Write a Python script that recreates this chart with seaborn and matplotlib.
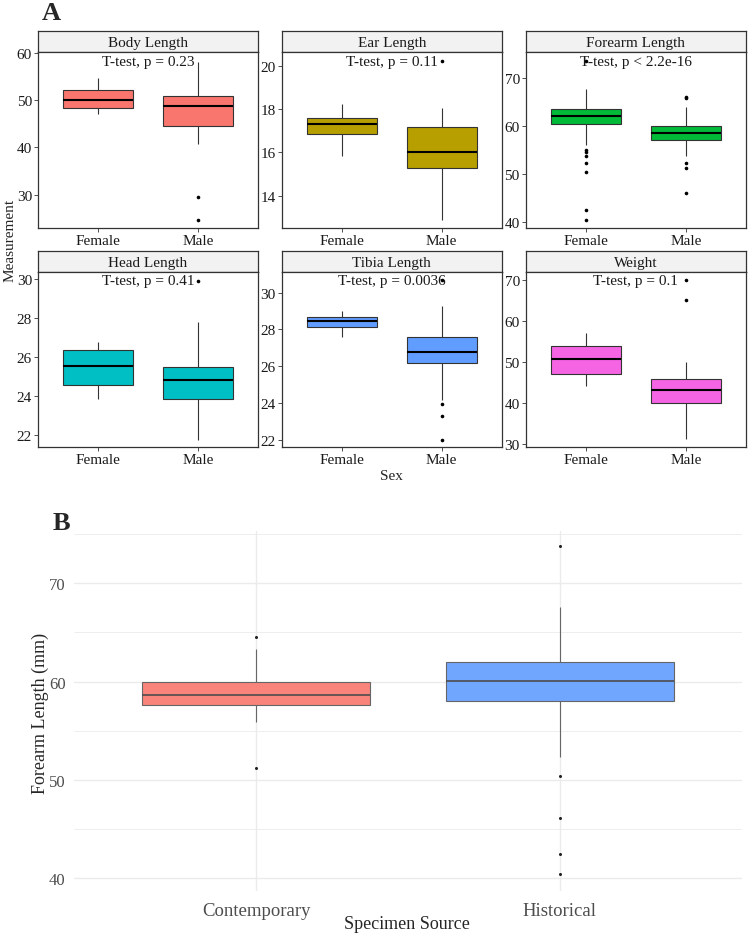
"""
Morphometric boxplots by sex (A) and forearm length by specimen source (B)
"""

import numpy as np
import pandas as pd
import matplotlib
matplotlib.use('Agg')
import matplotlib.pyplot as plt
import seaborn as sns

sns.set_theme(style='white')
plt.rcParams['font.family'] = ['Liberation Serif', 'DejaVu Serif']

# ---- Panel A data: five-number summaries (lo, q1, median, q3, hi)
facets = ['Body Length', 'Ear Length', 'Forearm Length',
          'Head Length', 'Tibia Length', 'Weight']
p_labels = ['T-test, p = 0.23', 'T-test, p = 0.11', 'T-test, p < 2.2e-16',
            'T-test, p = 0.41', 'T-test, p = 0.0036', 'T-test, p = 0.1']
sexes = ['Female', 'Male']

female_box = [
    [47.2, 48.3, 50.1, 52.1, 54.7],
    [15.85, 16.86, 17.31, 17.6, 18.23],
    [56.1, 60.5, 62.1, 63.5, 67.8],
    [23.82, 24.54, 25.52, 26.36, 26.74],
    [27.57, 28.11, 28.47, 28.65, 29.01],
    [44.1, 47.1, 50.6, 53.9, 57.0],
]
male_box = [
    [40.8, 44.6, 48.9, 51.0, 58.2],
    [12.88, 15.25, 16.0, 17.17, 18.05],
    [53.75, 57.2, 58.5, 60.0, 64.0],
    [21.74, 23.85, 24.81, 25.5, 27.77],
    [24.18, 26.17, 26.78, 27.6, 29.25],
    [31.1, 40.0, 43.1, 45.9, 50.0],
]
female_out = [
    [],
    [],
    [73.6, 55.1, 54.7, 53.7, 52.4, 50.4, 42.6, 40.4],
    [],
    [],
    [],
]
male_out = [
    [29.5, 24.5],
    [20.23],
    [66.1, 65.8, 52.4, 51.2, 46.1],
    [29.9],
    [30.7, 23.94, 23.28, 21.99],
    [70.0, 65.1],
]
facet_colors = ['#F8766D', '#B79F00', '#00BA38', '#00BFC4', '#619CFF', '#F564E3']
facet_ylims = [(22.9, 60.2), (12.5, 20.62), (38.8, 75.4),
               (21.35, 30.38), (21.6, 31.13), (29.2, 71.95)]
facet_yticks = [[30, 40, 50, 60], [14, 16, 18, 20], [40, 50, 60, 70],
                [22, 24, 26, 28, 30], [22, 24, 26, 28, 30], [30, 40, 50, 60, 70]]

# ---- Panel B data
sources = ['Contemporary', 'Historical']
source_box = [
    [55.9, 57.65, 58.6, 60.0, 63.3],
    [52.36, 58.0, 60.06, 62.03, 67.6],
]
source_out = [
    [64.5, 51.2],
    [73.76, 50.43, 46.1, 42.5, 40.4],
]
source_colors = ['#F8847C', '#71A6FF']

W, H = 748, 937
fig = plt.figure(figsize=(W / 100, H / 100), dpi=100)


def px_axes(x0, y0, x1, y1):
    return fig.add_axes([x0 / W, 1 - y1 / H, (x1 - x0) / W, (y1 - y0) / H])


col_x = [(38, 258), (281.7, 501.7), (525.7, 746)]
row_y = [(32, 53.3, 229), (252.3, 272.7, 448.3)]
edge = '#333333'

for i, name in enumerate(facets):
    r, c = divmod(i, 3)
    x0, x1 = col_x[c]
    s0, p0, p1 = row_y[r]

    # strip
    sax = px_axes(x0, s0, x1, p0)
    sax.set_facecolor('#F2F2F2')
    sax.set_xticks([])
    sax.set_yticks([])
    for sp in sax.spines.values():
        sp.set_color(edge)
        sp.set_linewidth(0.9)
    sax.text(0.5, 0.45, name, ha='center', va='center', fontsize=11,
             color='#1A1A1A', transform=sax.transAxes)

    ax = px_axes(x0, p0, x1, p1)
    box_df = pd.DataFrame({
        'sex': np.repeat(sexes, 5),
        'value': female_box[i] + male_box[i],
    })
    sns.boxplot(data=box_df, x='sex', y='value', order=sexes, ax=ax,
                whis=(0, 100), showfliers=False, showcaps=False, width=0.7,
                color=facet_colors[i], saturation=1, linecolor=edge, linewidth=0.8,
                medianprops={'color': 'black', 'linewidth': 1.5})
    out_df = pd.DataFrame({
        'sex': ['Female'] * len(female_out[i]) + ['Male'] * len(male_out[i]),
        'value': female_out[i] + male_out[i],
    })
    sns.stripplot(data=out_df, x='sex', y='value', order=sexes, ax=ax,
                  jitter=False, color='black', size=2.6, linewidth=0, zorder=4)
    ax.text(0.5, 1 - 9 / (p1 - p0), p_labels[i], ha='center', va='center',
            fontsize=11, color='#1A1A1A', transform=ax.transAxes, zorder=3)

    ax.set_xlim(-0.6, 1.6)
    ax.set_ylim(*facet_ylims[i])
    ax.set_yticks(facet_yticks[i])
    ax.set_xlabel('')
    ax.set_ylabel('')
    ax.tick_params(axis='both', length=2.75, width=0.6, color=edge,
                   labelsize=11, labelcolor='#1A1A1A', pad=1.5,
                   left=True, bottom=True)
    for sp in ax.spines.values():
        sp.set_color(edge)
        sp.set_linewidth(0.9)

fig.text(51 / W, 1 - 13 / H, 'A', fontsize=19, fontweight='bold',
         ha='center', va='center')
fig.text(10 / W, 1 - 240 / H, 'Measurement', fontsize=11, rotation=90,
         ha='center', va='center')
fig.text(391 / W, 1 - 476 / H, 'Sex', fontsize=11, ha='center', va='center')

# ---- Panel B
axb = px_axes(74, 531.7, 742, 891.7)
src_df = pd.DataFrame({
    'source': np.repeat(sources, 5),
    'value': source_box[0] + source_box[1],
})
sns.boxplot(data=src_df, x='source', y='value', order=sources, hue='source',
            palette=source_colors, legend=False, ax=axb,
            whis=(0, 100), showfliers=False, showcaps=False, width=0.75,
            saturation=1, linecolor='#666666', linewidth=0.8,
            medianprops={'color': '#4D4D4D', 'linewidth': 1.2}, zorder=3)
src_out_df = pd.DataFrame({
    'source': [sources[0]] * len(source_out[0]) + [sources[1]] * len(source_out[1]),
    'value': source_out[0] + source_out[1],
})
sns.stripplot(data=src_out_df, x='source', y='value', order=sources, ax=axb,
              jitter=False, color='#222222', size=2.2, linewidth=0, zorder=4)
axb.set_xlim(-0.6, 1.6)
axb.set_ylim(38.74, 75.35)
axb.set_yticks([40, 50, 60, 70])
axb.set_yticks([45, 55, 65, 75], minor=True)
axb.grid(axis='y', which='major', color='#EBEBEB', linewidth=1.0)
axb.grid(axis='y', which='minor', color='#EBEBEB', linewidth=0.6)
axb.grid(axis='x', which='major', color='#EBEBEB', linewidth=1.0)
axb.set_axisbelow(True)
for sp in axb.spines.values():
    sp.set_visible(False)
axb.tick_params(axis='both', which='both', length=0, labelsize=12,
                labelcolor='#4D4D4D', pad=6)
axb.tick_params(axis='x', labelsize=13.5, pad=8)
axb.set_xlabel('')
axb.set_ylabel('')

fig.text(53 / W, 1 - 523 / H, 'B', fontsize=19, fontweight='bold',
         ha='left', va='center')
fig.text(40 / W, 1 - 713 / H, 'Forearm Length (mm)', fontsize=13, rotation=90,
         ha='center', va='center')
fig.text(407 / W, 1 - 925 / H, 'Specimen Source', fontsize=13,
         ha='center', va='center')

fig.savefig('out.png', dpi=100)
